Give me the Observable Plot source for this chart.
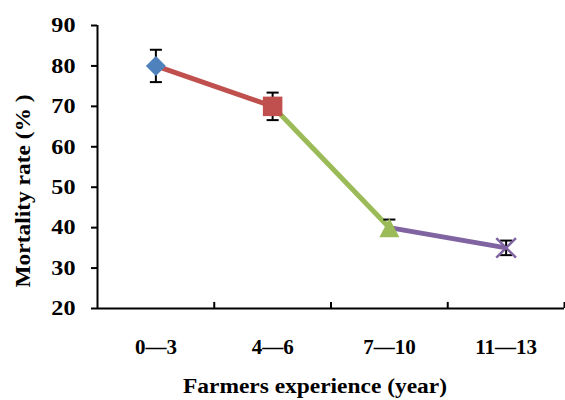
<!DOCTYPE html>
<html><head><meta charset="utf-8">
<script src="https://cdn.jsdelivr.net/npm/d3@7"></script>
<script src="https://cdn.jsdelivr.net/npm/@observablehq/plot@0.6"></script>
<style>
html,body{margin:0;padding:0;background:#fff}
svg{display:block}
svg text{font-family:"Liberation Serif","Times New Roman",serif !important;font-weight:bold !important;fill:#000}
</style>
</head><body><div id="chart"></div>
<script>
const categories = ["0\u20143", "4\u20146", "7\u201410", "11\u201413"];
const mortality = [80, 70, 40, 35];
const errors = [4, 3.4, 2, 1.8];
const markerSymbols = ["diamond2", "square", "triangleBox", "times"];
const markerColors = ["#4F81BD", "#C0504D", "#9BBB59", "#8064A2"];
const segmentColors = ["#C0504D", "#9BBB59", "#8064A2"];
const yTicks = [20, 30, 40, 50, 60, 70, 80, 90];
const bandEdges = [0.5, 1.5, 2.5, 3.5];
const xTitle = "Farmers experience (year)";
const yTitle = "Mortality rate (% )";

const data = categories.map((c, i) => ({i, cat: c, v: mortality[i], lo: mortality[i] - errors[i], hi: mortality[i] + errors[i]}));
const segments = segmentColors.map((c, i) => ({x1: i, y1: mortality[i], x2: i + 1, y2: mortality[i + 1], color: c}));
const capSymbol = {draw(ctx, size) { const w = Math.sqrt(size) / 2; ctx.moveTo(-w, 0); ctx.lineTo(w, 0); }};
// triangle centred on its bounding box (as spreadsheet markers are)
const triangleBox = {draw(ctx, size) { const a = Math.sqrt(size) / 2, h = a * 0.95; ctx.moveTo(0, -h); ctx.lineTo(a, h); ctx.lineTo(-a, h); ctx.closePath(); }};
const symbolOf = s => s === "triangleBox" ? triangleBox : s;
const markerR = {diamond2: 9, square: 11, triangleBox: 11.3, times: 9};

const font = '"Liberation Serif", "Times New Roman", serif';
const plot = Plot.plot({
  width: 565, height: 400,
  marginTop: 25, marginBottom: 92, marginLeft: 97, marginRight: 1,
  style: {fontFamily: font, fontWeight: "bold", background: "#fff", color: "#000"},
  x: {type: "linear", domain: [-0.5, 3.5]},
  y: {domain: [20, 90]},
  marks: [
    Plot.axisY({ticks: yTicks, tickSize: 6, tickPadding: 16, fontSize: 21, fontFamily: font, fontWeight: "bold", strokeWidth: 2, tickFormat: d => String(d), label: null}),
    Plot.axisX({ticks: [0, 1, 2, 3], tickFormat: i => categories[i], tickSize: 0, tickPadding: 31, fontSize: 21, fontFamily: font, fontWeight: "bold", label: null}),
    Plot.ruleY([20], {stroke: "#000", strokeWidth: 2}),
    Plot.ruleX([-0.5], {stroke: "#000", strokeWidth: 2}),
    Plot.ruleX(bandEdges, {y1: 20, y2: 21.5, stroke: "#000", strokeWidth: 2}),
    Plot.link(segments, {x1: "x1", y1: "y1", x2: "x2", y2: "y2", stroke: "color", strokeWidth: 5}),
    Plot.ruleX(data, {x: "i", y1: "lo", y2: "hi", stroke: "#000", strokeWidth: 2}),
    Plot.dot(data, {x: "i", y: "lo", symbol: capSymbol, r: 6.8, stroke: "#000", strokeWidth: 2, fill: "none"}),
    Plot.dot(data, {x: "i", y: "hi", symbol: capSymbol, r: 6.8, stroke: "#000", strokeWidth: 2, fill: "none"}),
    ...markerSymbols.map((s, i) => Plot.dot([data[i]], s === "times"
      ? {x: "i", y: "v", symbol: s, r: markerR[s], stroke: markerColors[i], strokeWidth: 2.5}
      : {x: "i", y: "v", symbol: symbolOf(s), r: markerR[s], fill: markerColors[i], stroke: "none"})),
    Plot.text([xTitle], {text: d => d, frameAnchor: "bottom", textAnchor: "middle", lineAnchor: "middle", dx: -16, dy: 78, fontSize: 21.5, fontFamily: font, fontWeight: "bold", fill: "#000"}),
    Plot.text([yTitle], {text: d => d, frameAnchor: "left", textAnchor: "middle", lineAnchor: "middle", rotate: -90, dx: -74, dy: 24, fontSize: 21.5, fontFamily: font, fontWeight: "bold", fill: "#000"})
  ]
});
// widen glyphs horizontally like the reference rendering
function stretch(sel, k) {
  plot.querySelectorAll(sel).forEach(t => {
    t.setAttribute("transform", (t.getAttribute("transform") || "") + ` scale(${k},1)`);
  });
}
stretch('g[aria-label="y-axis tick label"] text', 1.15);
stretch('g[aria-label="text"] text', 1.09);
document.getElementById("chart").appendChild(plot);
</script>
</body></html>
